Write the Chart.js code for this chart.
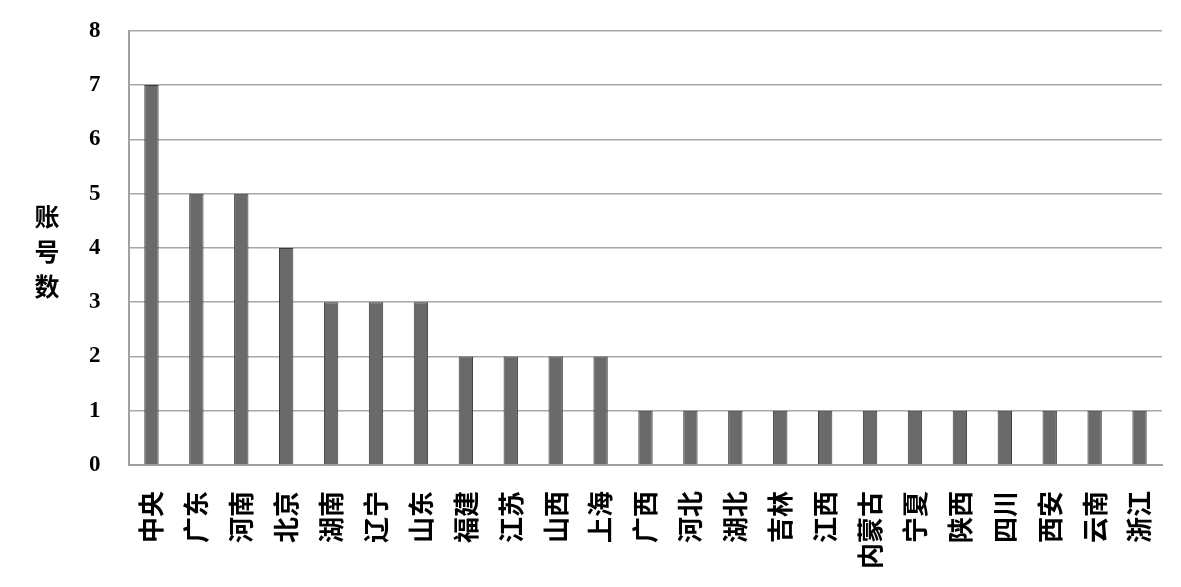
<!DOCTYPE html>
<html>
<head>
<meta charset="utf-8">
<script src="https://cdn.jsdelivr.net/npm/chart.js@4/dist/chart.umd.min.js"></script>
<style>
  html, body { margin: 0; padding: 0; background: #fff; }
  #wrap { width: 1181px; height: 587px; }
</style>
</head>
<body>
<div id="wrap"><canvas id="chart" width="1181" height="587"></canvas></div>
<script>
const categories = ["中央", "广东", "河南", "北京", "湖南", "辽宁", "山东", "福建", "江苏", "山西", "上海",
  "广西", "河北", "湖北", "吉林", "江西", "内蒙古", "宁夏", "陕西", "四川", "西安", "云南", "浙江"];
const accountCounts = [7, 5, 5, 4, 3, 3, 3, 2, 2, 2, 2, 1, 1, 1, 1, 1, 1, 1, 1, 1, 1, 1, 1];
const yTitle = ["账", "号", "数"];

// vertical stacked y axis title
const stackedTitle = {
  id: "stackedTitle",
  afterDraw(chart) {
    const ctx = chart.ctx;
    ctx.save();
    ctx.setTransform(1, 0, 0, 1, 0, 0);
    ctx.fillStyle = "#000";
    ctx.font = "bold 25px 'Noto Sans CJK SC', sans-serif";
    ctx.textAlign = "center";
    ctx.textBaseline = "middle";
    yTitle.forEach((ch, i) => ctx.fillText(ch, 47, 216 + i * 35));
    ctx.restore();
  }
};

const ctx = document.getElementById("chart").getContext("2d");
new Chart(ctx, {
  type: "bar",
  data: {
    labels: categories,
    datasets: [
      {
        data: accountCounts,
        backgroundColor: "#6a6a6a",
        borderColor: "#3c3c3c",
        borderWidth: 1,
        barPercentage: 0.32,
        categoryPercentage: 1,
      },
    ],
  },
  options: {
    responsive: false,
    animation: false,
    layout: { padding: { top: 0, right: 19, left: 89, bottom: 0 } },
    plugins: {
      legend: { display: false },
      tooltip: { enabled: false },
    },
    scales: {
      x: {
        grid: { display: false },
        border: { color: "#a0a0a0", width: 2 },
        ticks: {
          color: "#000",
          font: { family: "'Noto Sans CJK SC'", size: 26, weight: "bold" },
          minRotation: 90,
          maxRotation: 90,
          padding: 18,
          autoSkip: false,
        },
        afterFit(scale) {
          scale.height = 122;
          scale.paddingLeft = 0;
          scale.paddingRight = 0;
        },
      },
      y: {
        min: 0,
        max: 8,
        grid: { color: "#a8a8a8", lineWidth: 1.5, drawTicks: false },
        border: { color: "#a0a0a0", width: 2 },
        ticks: {
          stepSize: 1,
          color: "#000",
          font: { family: "'Liberation Serif'", size: 23, weight: "bold" },
          padding: 17,
          crossAlign: "far",
        },
        afterFit(scale) { scale.width = 40; },
      },
    },
  },
  plugins: [stackedTitle],
});
</script>
</body>
</html>
